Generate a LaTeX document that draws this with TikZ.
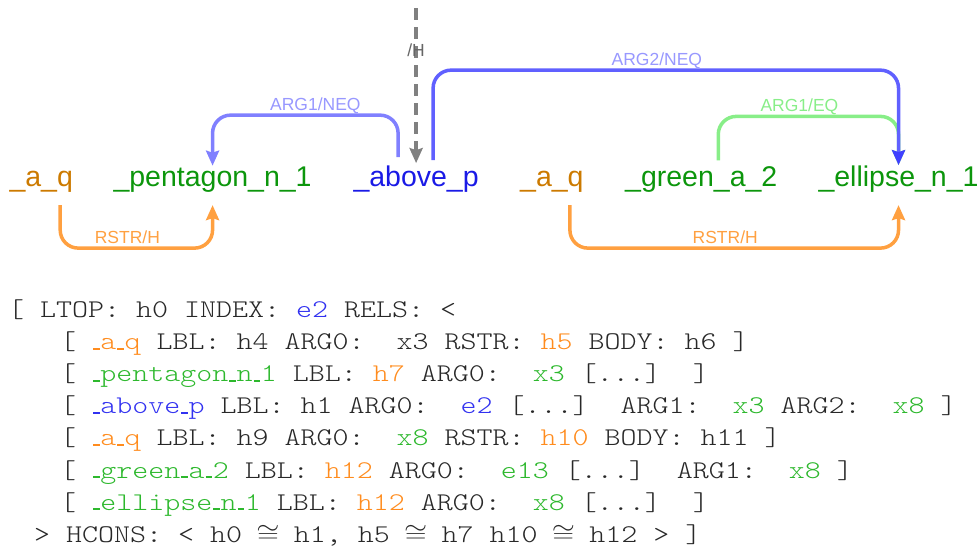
\documentclass[tikz,border=0pt]{standalone}
\usepackage{fontspec}
\usepackage{graphicx}
\setmainfont{Liberation Sans}
\newfontfamily\mrsfont{Latin Modern Mono Light}
\usetikzlibrary{arrows.meta}
\definecolor{predor}{RGB}{204,122,0}
\definecolor{predgr}{RGB}{12,150,12}
\definecolor{predbl}{RGB}{26,26,230}
\definecolor{mor}{RGB}{255,140,30}
\definecolor{mgr}{RGB}{45,184,45}
\definecolor{mbl}{RGB}{50,50,240}
\definecolor{mblk}{RGB}{40,40,40}
\definecolor{neqline}{RGB}{128,128,255}
\definecolor{neqdark}{RGB}{96,96,255}
\definecolor{neqlbl}{RGB}{152,152,255}
\definecolor{eqline}{RGB}{136,238,136}
\definecolor{rstr}{RGB}{255,160,64}
\definecolor{hgray}{RGB}{128,128,128}
\newcommand\usc{\kern.03em\rule{.22em}{.07em}\kern.02em}
\newcommand\mo[1]{\textcolor{mor}{#1}}
\newcommand\mg[1]{\textcolor{mgr}{#1}}
\newcommand\mb[1]{\textcolor{mbl}{#1}}
\newcommand\mline[1]{\scalebox{1.195}[1]{#1}}
\newcommand\cg{\makebox[16.5pt]{$\cong$}}
\tikzset{
  pred/.style={anchor=base west, inner sep=0pt, font=\fontsize{28.5}{34}\selectfont},
  lbl/.style={anchor=base, inner sep=0pt, yshift=4.5pt, font=\fontsize{17.5}{21}\selectfont},
  mrs/.style={anchor=base west, inner sep=0pt, text=mblk, font=\mrsfont\fontsize{25.5}{30}\selectfont},
  link/.style={line width=3.5pt, rounded corners=18pt, -{Stealth[length=15pt,width=13pt,inset=2pt]}},
}
\begin{document}
\begin{tikzpicture}[x=1pt,y=1pt]
\useasboundingbox (0,0) rectangle (979,546);
% predicates
\node[pred, text=predor] (aq1) at (9.3,359) {\_a\_q};
\node[pred, text=predgr] (pent) at (113.3,359) {\_pentagon\_n\_1};
\node[pred, text=predbl] (above) at (353.3,359) {\_above\_p};
\node[pred, text=predor] (aq2) at (520,359) {\_a\_q};
\node[pred, text=predgr] (green) at (625,359) {\_green\_a\_2};
\node[pred, text=predgr] (ellipse) at (818.3,359) {\_ellipse\_n\_1};
% top handle
\path ([yshift=158pt]above.north) coordinate (htop);
\draw[line width=3.5pt, hgray, dash pattern=on 12pt off 7pt, -{Stealth[length=15pt,width=13pt,inset=2pt]}]
  (htop) -- node[lbl, pos=0.31, yshift=-4.5pt, text=black!60] {/H} ([yshift=3pt]above.north);
% ARG1/NEQ
\draw[link, neqline] ([xshift=-18pt,yshift=9pt]above.north) -- ++(0,42)
  -| node[lbl, pos=0.25, xshift=10pt, text=neqlbl] {ARG1/NEQ} ([yshift=1.5pt]pent.north);
% ARG1/EQ
\draw[link, eqline] ([xshift=17pt,yshift=6.5pt]green.north) -- ++(0,44)
  -| node[lbl, pos=0.25, xshift=-9pt, text=eqline] {ARG1/EQ} ([yshift=1pt]ellipse.north);
% ARG2/NEQ
\draw[line width=3.5pt, rounded corners=18pt, neqdark, -{Stealth[length=15pt,width=13pt,inset=2pt,color=blue!75]}]
  ([xshift=17pt,yshift=6pt]above.north) -- ++(0,90)
  -| node[lbl, pos=0.25, xshift=-9pt, text=neqlbl] {ARG2/NEQ} ([yshift=1pt]ellipse.north);
% RSTR/H
\draw[link, rstr] ([xshift=19pt,yshift=-12pt]aq1.south) -- ++(0,-43)
  -| node[lbl, pos=0.25, xshift=-9pt, text=rstr] {RSTR/H} ([yshift=-12pt]pent.south);
\draw[link, rstr] ([xshift=18pt,yshift=-12pt]aq2.south) -- ++(0,-43)
  -| node[lbl, pos=0.25, xshift=-9pt, text=rstr] {RSTR/H} ([yshift=-12pt]ellipse.south);
% MRS text
\node[mrs] (l0) at (8,228) {\mline{[ LTOP: h0 INDEX: \mb{e2} RELS: <}};
\node[mrs] (l1) at (60,196) {\mline{[ \mo{\usc a\usc q} LBL: h4 ARG0:~~x3 RSTR: \mo{h5} BODY: h6 ]}};
\node[mrs] (l2) at (60,164) {\mline{[ \mg{\usc pentagon\usc n\usc 1} LBL: \mo{h7} ARG0:~~\mg{x3} [...]~~]}};
\node[mrs] (l3) at (60,132) {\mline{[ \mb{\usc above\usc p} LBL: h1 ARG0:~~\mb{e2} [...]~~ARG1:~~\mg{x3} ARG2:~~\mg{x8} ]}};
\node[mrs] (l4) at (60,100) {\mline{[ \mo{\usc a\usc q} LBL: h9 ARG0:~~\mg{x8} RSTR: \mo{h10} BODY: h11 ]}};
\node[mrs] (l5) at (60,68) {\mline{[ \mg{\usc green\usc a\usc 2} LBL: \mo{h12} ARG0:~~\mg{e13} [...]~~ARG1:~~\mg{x8} ]}};
\node[mrs] (l6) at (60,36) {\mline{[ \mg{\usc ellipse\usc n\usc 1} LBL: \mo{h12} ARG0:~~\mg{x8} [...]~~]}};
\node[mrs] (l7) at (34,4) {\mline{> HCONS: < h0 \cg{} h1, h5 \cg{} h7 h10 \cg{} h12 > ]}};
\end{tikzpicture}
\end{document}
